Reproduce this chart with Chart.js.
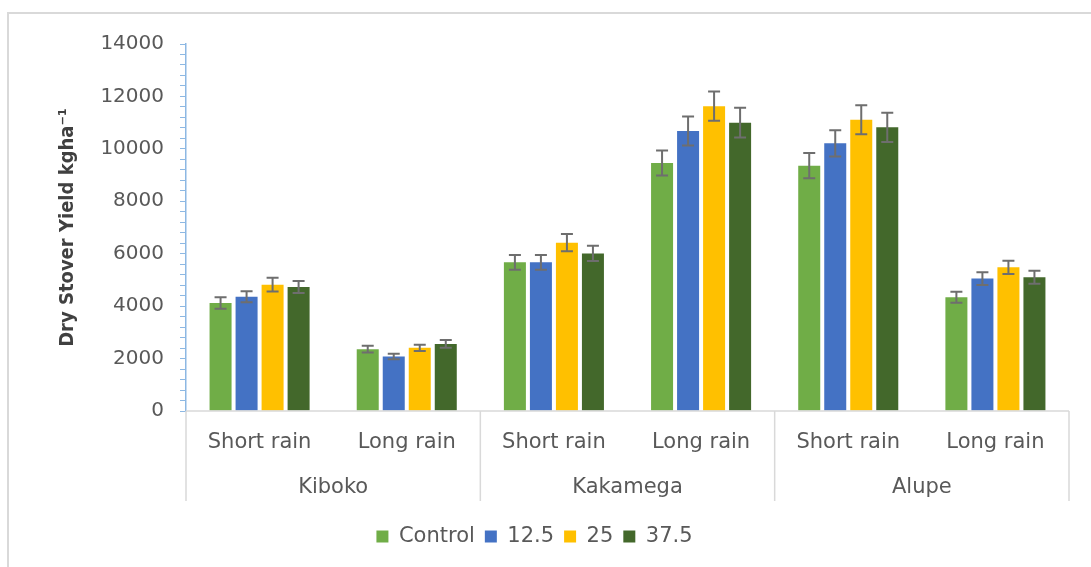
<!DOCTYPE html>
<html>
<head>
<meta charset="utf-8">
<script src="https://cdn.jsdelivr.net/npm/chart.js@4.4.1/dist/chart.umd.min.js"></script>
<style>
  html, body { margin: 0; padding: 0; background: #fff; overflow: hidden; }
  #frame { position: absolute; left: 7px; top: 12px; width: 1200px; height: 700px; border: 2px solid #d9d9d9; }
  #wrap { position: absolute; left: 0; top: 0; width: 1091px; height: 567px; }
</style>
</head>
<body>
<div id="frame"></div>
<div id="wrap"><canvas id="stoverChart" width="1091" height="567"></canvas></div>
<script>
// DATA
const seasons = ['Short rain', 'Long rain', 'Short rain', 'Long rain', 'Short rain', 'Long rain'];
const sites = ['Kiboko', 'Kakamega', 'Alupe'];
const seriesNames = ['Control', '12.5', '25', '37.5'];

const controlVals = [4120, 2360, 5670, 9460, 9360, 4340];
const rate125Vals = [4360, 2080, 5670, 10680, 10210, 5050];
const rate25Vals  = [4820, 2410, 6420, 11630, 11110, 5480];
const rate375Vals = [4730, 2560, 6010, 11000, 10820, 5100];

const controlErr = [220, 125, 280, 480, 480, 210];
const rate125Err = [210, 105, 280, 550, 500, 240];
const rate25Err  = [265, 120, 330, 560, 550, 250];
const rate375Err = [230, 150, 290, 570, 560, 250];

const yTicksMajor = [0, 2000, 4000, 6000, 8000, 10000, 12000, 14000];

const COLORS = ['#70ad47', '#4472c4', '#ffc000', '#43682b'];
const TEXT_COLOR = '#595959';
const AXIS_BLUE = '#8db8e3';
const FONT = "'DejaVu Sans', sans-serif";

// ERROR BARS
const errorBarPlugin = {
    id: 'errorBars',
    afterDatasetsDraw(chart) {
        const ctx = chart.ctx;
        const yScale = chart.scales.y;
        ctx.save();
        ctx.strokeStyle = '#6e6e6e';
        ctx.lineWidth = 2;
        chart.data.datasets.forEach((ds, di) => {
            const meta = chart.getDatasetMeta(di);
            meta.data.forEach((bar, i) => {
                const v = ds.data[i];
                const e = ds.errors[i];
                const yTop = yScale.getPixelForValue(v + e);
                const yBot = yScale.getPixelForValue(v - e);
                const cap = 6;
                ctx.beginPath();
                ctx.moveTo(bar.x, yTop); ctx.lineTo(bar.x, yBot);
                ctx.moveTo(bar.x - cap, yTop); ctx.lineTo(bar.x + cap, yTop);
                ctx.moveTo(bar.x - cap, yBot); ctx.lineTo(bar.x + cap, yBot);
                ctx.stroke();
            });
        });
        ctx.restore();
    }
};

// TWO LEVEL CATEGORY AXIS (site groups + separators)
const groupAxisPlugin = {
    id: 'groupAxis',
    afterDraw(chart) {
        const ctx = chart.ctx;
        const x = chart.scales.x;
        const area = chart.chartArea;
        const half = (x.getPixelForValue(1) - x.getPixelForValue(0)) / 2;
        ctx.save();
        ctx.strokeStyle = '#d9d9d9';
        ctx.lineWidth = 1.5;
        ctx.beginPath();
        ctx.moveTo(area.left, area.bottom);
        ctx.lineTo(area.right, area.bottom);
        for (let g = 0; g <= sites.length; g++) {
            const idx = Math.min(g * 2, seasons.length - 1);
            const px = g * 2 < seasons.length ? x.getPixelForValue(idx) - half : x.getPixelForValue(idx) + half;
            ctx.moveTo(px, area.bottom);
            ctx.lineTo(px, area.bottom + 90);
        }
        ctx.stroke();
        ctx.fillStyle = TEXT_COLOR;
        ctx.font = '21px ' + FONT;
        ctx.textAlign = 'center';
        ctx.textBaseline = 'middle';
        sites.forEach((s, g) => {
            const cx = (x.getPixelForValue(g * 2) + x.getPixelForValue(g * 2 + 1)) / 2;
            ctx.fillText(s, cx, area.bottom + 77);
        });
        ctx.restore();
    }
};

const datasets = [controlVals, rate125Vals, rate25Vals, rate375Vals].map((vals, i) => ({
    label: seriesNames[i],
    data: vals,
    errors: [controlErr, rate125Err, rate25Err, rate375Err][i],
    backgroundColor: COLORS[i],
    borderWidth: 0,
    categoryPercentage: 0.707,
    barPercentage: 0.846
}));

const ctx = document.getElementById('stoverChart').getContext('2d');
new Chart(ctx, {
    type: 'bar',
    data: { labels: seasons, datasets: datasets },
    options: {
        responsive: false,
        animation: false,
        devicePixelRatio: 1,
        layout: { padding: { left: 0, right: 22, top: 44, bottom: 10 } },
        plugins: {
            legend: {
                position: 'bottom',
                labels: {
                    boxWidth: 12,
                    boxHeight: 12,
                    padding: 10,
                    color: TEXT_COLOR,
                    font: { family: FONT, size: 21 }
                }
            },
            tooltip: { enabled: false }
        },
        scales: {
            x: {
                grid: { display: false },
                border: { display: false },
                ticks: {
                    color: TEXT_COLOR,
                    padding: 11,
                    maxRotation: 0,
                    autoSkip: false,
                    font: { family: FONT, size: 21 }
                },
                afterFit(scale) { scale.height = 105; }
            },
            y: {
                min: 0,
                max: 14000,
                border: { color: AXIS_BLUE, width: 1.5 },
                grid: { drawOnChartArea: false, drawTicks: true, tickLength: 6, color: AXIS_BLUE },
                ticks: {
                    stepSize: 400,
                    autoSkip: false,
                    padding: 16,
                    color: TEXT_COLOR,
                    font: { family: FONT, size: 20 },
                    callback: (v) => yTicksMajor.includes(v) ? String(v) : ''
                },
                title: {
                    display: true,
                    text: 'Dry Stover Yield kgha⁻¹',
                    color: '#404040',
                    font: { family: "'DejaVu Sans Condensed', 'Liberation Sans Narrow', 'DejaVu Sans', sans-serif", size: 20, weight: 'bold' },
                    padding: { top: 56, bottom: 0 }
                },
                afterFit(scale) { scale.width = 186; }
            }
        }
    },
    plugins: [errorBarPlugin, groupAxisPlugin]
});
</script>
</body>
</html>
